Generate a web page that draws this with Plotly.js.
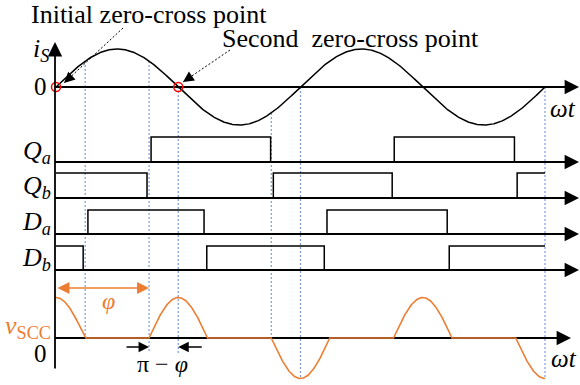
<!DOCTYPE html>
<html><head><meta charset="utf-8">
<script src="https://cdn.plot.ly/plotly-3.0.1.min.js"></script>
<style>
body{margin:0;padding:0}
#chart .annotation-text, #chart .annotation-text tspan { font-family: 'Liberation Serif', 'DejaVu Serif', serif !important; }
</style>
</head><body><div id="chart" style="width:580px;height:385px"></div>
<script>
// ---------------- data (ωt in degrees) ----------------
const phiDeg = 137;                       // φ
const zeroCrossDeg = [0, 180];            // marked zero-cross points of i_S
const iSAmplitude = 1;
const waveEndDeg = 720;
const qaEdges = [0, 140, 316, 498, 675, 720];
const qaLevels = [0, 1, 0, 1, 0, 0];
const qbEdges = [0, 134, 320, 495, 679, 720];
const qbLevels = [1, 0, 1, 0, 1, 1];
const daEdges = [0, 47, 218, 399, 576, 720];
const daLevels = [0, 1, 0, 1, 0, 0];
const dbEdges = [0, 40, 222, 395, 579, 720];
const dbLevels = [1, 0, 1, 0, 1, 1];
const vsccCenters = [0, 180, 360, 540, 720];
const vsccSigns = [1, 1, -1, 1, -1];
const vsccAmplitude = 1;
const guideDeg = [43, 137, 180, 317, 360, 720];
const guideBottom = [0, -0.35, -0.37, 0, -1, -1];   // in v_SCC units

// ---------------- layout geometry ----------------
const W = 580, H = 385;
const x0Px = 56, pxPerDeg = 489 / 720;
const rows = {
  iS: {ax: 'y',  zero: 87,  unit: 38},
  qa: {ax: 'y2', zero: 162, unit: 25},
  qb: {ax: 'y3', zero: 198, unit: 25},
  da: {ax: 'y4', zero: 234, unit: 24},
  db: {ax: 'y5', zero: 270, unit: 24},
  v:  {ax: 'y6', zero: 338, unit: 40.5}
};
const degOfPx = px => (px - x0Px) / pxPerDeg;
const valOfPx = (r, px) => (r.zero - px) / r.unit;
const yPaper = (r, v) => 1 - (r.zero - v * r.unit) / H;
const PX = px => px / W, PY = py => 1 - py / H;
const axisLeftDeg = degOfPx(55);
const FAM = 'Liberation Serif, DejaVu Serif, serif';
const orange = '#ED7D31';

const thetas = [];
for (let t = 0; t <= waveEndDeg; t += 1) thetas.push(t);
const iS = thetas.map(t => iSAmplitude * Math.sin(t * Math.PI / 180));
const hw = 180 - phiDeg;   // π − φ
const vscc = thetas.map(t => {
  for (let k = 0; k < vsccCenters.length; k++) {
    const d = t - vsccCenters[k];
    if (Math.abs(d) < hw) return vsccSigns[k] * vsccAmplitude * Math.cos(d / hw * Math.PI / 2);
  }
  return 0;
});

const traces = [];
const tipPx = {iS: 579, qa: 579, qb: 579, da: 579, db: 579, v: 571};
Object.keys(rows).forEach(k => {
  const r = rows[k];
  traces.push({x: [axisLeftDeg, degOfPx(tipPx[k]) - 3], y: [0, 0], yaxis: r.ax, mode: 'lines',
    line: {color: '#000', width: 1.8}, hoverinfo: 'skip', showlegend: false});
});
[[qaEdges, qaLevels, rows.qa], [qbEdges, qbLevels, rows.qb], [daEdges, daLevels, rows.da], [dbEdges, dbLevels, rows.db]]
  .forEach(([e, l, r]) => traces.push({x: e, y: l, yaxis: r.ax, mode: 'lines',
    line: {color: '#000', width: 1.5, shape: 'hv'}, hoverinfo: 'skip', showlegend: false}));
traces.push({x: thetas, y: iS, yaxis: 'y', mode: 'lines', line: {color: '#000', width: 1.5}, showlegend: false});
traces.push({x: thetas, y: vscc, yaxis: 'y6', mode: 'lines', line: {color: orange, width: 1.6}, showlegend: false});
traces.push({x: zeroCrossDeg, y: zeroCrossDeg.map(() => 0), yaxis: 'y', mode: 'markers',
  marker: {symbol: 'circle-open', size: 9, color: '#FF0000', line: {width: 1.5, color: '#FF0000'}}, showlegend: false});

const shapes = guideDeg.map((g, i) => ({
  type: 'line', layer: 'below', xref: 'x', yref: 'paper', x0: g, x1: g,
  y0: yPaper(rows.iS, iSAmplitude * Math.sin(g * Math.PI / 180)), y1: yPaper(rows.v, guideBottom[i]),
  line: {color: '#7F9CD6', width: 1.2, dash: '2px,2px'}
}));
function pointer(tail, tip) {
  shapes.push({type: 'line', xref: 'paper', yref: 'paper', x0: PX(tail[0]), y0: PY(tail[1]), x1: PX(tip[0]), y1: PY(tip[1]),
    line: {color: '#000', width: 1, dash: '2px,2px'}});
  const dx = tail[0] - tip[0], dy = tail[1] - tip[1], L = Math.hypot(dx, dy);
  return {xref: 'paper', yref: 'paper', x: PX(tip[0]), y: PY(tip[1]), ax: dx / L * 12, ay: dy / L * 12,
    showarrow: true, arrowhead: 2, arrowsize: 1.8, arrowwidth: 1.2, arrowcolor: '#000', text: ''};
}

const annotations = [];
annotations.push({xref: 'x', yref: 'y', x: axisLeftDeg, y: valOfPx(rows.iS, 42), ax: 0, ay: 328, text: '',
  showarrow: true, arrowhead: 2, arrowsize: 1.6, arrowwidth: 1.8, arrowcolor: '#000'});
Object.keys(rows).forEach(k => {
  const r = rows[k];
  annotations.push({xref: 'x', yref: r.ax, x: degOfPx(tipPx[k]), y: 0, ax: -14, ay: 0, text: '',
    showarrow: true, arrowhead: 2, arrowsize: 1.6, arrowwidth: 1.8, arrowcolor: '#000'});
});
annotations.push(pointer([123, 28], [64, 83]));
annotations.push(pointer([230, 50], [183, 82]));
annotations.push({xref: 'x', yref: 'y6', x: phiDeg, y: valOfPx(rows.v, 288), axref: 'x', ayref: 'y6',
  ax: 0, ay: valOfPx(rows.v, 288), text: '', showarrow: true, arrowside: 'end+start',
  arrowhead: 2, arrowsize: 1.5, arrowwidth: 1.6, arrowcolor: orange});
annotations.push({xref: 'x', yref: 'y6', x: phiDeg, y: valOfPx(rows.v, 347), ax: -24, ay: 0, text: '',
  showarrow: true, arrowhead: 2, arrowsize: 1.5, arrowwidth: 1.4, arrowcolor: '#000'});
annotations.push({xref: 'x', yref: 'y6', x: 180, y: valOfPx(rows.v, 347), ax: 25, ay: 0, text: '',
  showarrow: true, arrowhead: 2, arrowsize: 1.5, arrowwidth: 1.4, arrowcolor: '#000'});

function label(text, px, py, size, color, xanchor) {
  annotations.push({xref: 'paper', yref: 'paper', x: PX(px), y: PY(py), text: text,
    showarrow: true, ax: 0, ay: 0, arrowhead: 0, arrowwidth: 0.1, arrowcolor: 'rgba(0,0,0,0)',
    xanchor: xanchor || 'center', font: {family: FAM, size: size, color: color || '#000'}});
}
label('Initial zero-cross point', 149, 14, 26);
label('Second\u00a0 zero-cross point', 350, 38, 26);
label('<i>i</i><sub><i>S</i></sub>', 51, 50, 26, null, 'right');
label('0', 40, 87, 25);
label('<i>ωt</i>', 563, 108, 25);
label('<i>Q</i><sub><i>a</i></sub>', 53, 152, 26, null, 'right');
label('<i>Q</i><sub><i>b</i></sub>', 53, 187, 26, null, 'right');
label('<i>D</i><sub><i>a</i></sub>', 53, 223, 26, null, 'right');
label('<i>D</i><sub><i>b</i></sub>', 53, 259, 26, null, 'right');
label('<i>v</i><sub>SCC</sub>', 53, 327, 26, orange, 'right');
label('0', 40, 353, 25);
label('<i>ωt</i>', 564, 358, 25);
label('<i>φ</i>', 108, 301, 24, orange);
label('π − <i>φ</i>', 162, 364, 24);

const hidden = {visible: false, showgrid: false, zeroline: false, fixedrange: true};
const layout = {
  width: W, height: H, margin: {l: 0, r: 0, t: 0, b: 0},
  showlegend: false, font: {family: FAM},
  xaxis: Object.assign({range: [degOfPx(0), degOfPx(W)]}, hidden),
  shapes: shapes, annotations: annotations
};
Object.keys(rows).forEach(k => {
  const r = rows[k];
  const name = r.ax === 'y' ? 'yaxis' : 'yaxis' + r.ax.slice(1);
  layout[name] = Object.assign({range: [(r.zero - H) / r.unit, r.zero / r.unit], domain: [0, 1], anchor: 'x'}, hidden);
  if (r.ax !== 'y') layout[name].overlaying = 'y';
});
Plotly.newPlot('chart', traces, layout, {staticPlot: true});
</script></body></html>
